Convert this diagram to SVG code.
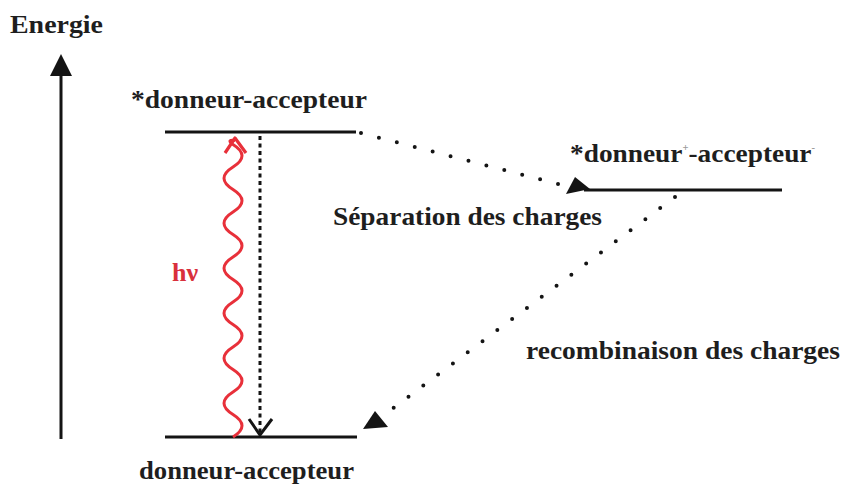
<svg xmlns="http://www.w3.org/2000/svg" width="843" height="488" viewBox="0 0 843 488">
  <style>
    .lbl { font-family: "Liberation Serif", "Times New Roman", serif; font-weight: bold; fill: #1e1e1e; font-size: 26px; }
    .lvl { stroke: #141414; stroke-width: 3; fill: none; }
    .dots { stroke: #141414; stroke-width: 4; stroke-linecap: round; stroke-dasharray: 0 18.5; fill: none; }
    .head { fill: #141414; }
    .sup { font-size: 10px; }
  </style>
  <rect width="843" height="488" fill="#ffffff"/>

  <!-- energy axis -->
  <g id="axis">
    <text class="lbl" x="10" y="33" textLength="93" lengthAdjust="spacingAndGlyphs">Energie</text>
    <line x1="61" y1="439" x2="61" y2="70" stroke="#141414" stroke-width="3"/>
    <polygon class="head" points="61,54 50,76 72,76"/>
  </g>

  <!-- excited state -->
  <g id="excited">
    <text class="lbl" x="131" y="108" textLength="236" lengthAdjust="spacingAndGlyphs">*donneur-accepteur</text>
    <line class="lvl" x1="165" y1="132" x2="356" y2="132"/>
  </g>

  <!-- charge-separated state -->
  <g id="separated">
    <text class="lbl" x="570" y="162" textLength="245" lengthAdjust="spacingAndGlyphs">*donneur<tspan class="sup" dy="-11" fill="#999">+</tspan><tspan dy="11">-accepteur</tspan><tspan class="sup" dy="-11" fill="#999">-</tspan></text>
    <line class="lvl" x1="584" y1="190" x2="782" y2="190"/>
  </g>

  <!-- ground state -->
  <g id="ground">
    <line class="lvl" x1="165" y1="437" x2="357" y2="437"/>
    <text class="lbl" x="139" y="479" textLength="215" lengthAdjust="spacingAndGlyphs">donneur-accepteur</text>
  </g>

  <!-- labels -->
  <g id="labels">
    <text class="lbl" x="333" y="225" textLength="269" lengthAdjust="spacingAndGlyphs">Séparation des charges</text>
    <text class="lbl" x="526" y="359" textLength="314" lengthAdjust="spacingAndGlyphs">recombinaison des charges</text>
    <text class="lbl" x="172" y="281" style="fill:#d9303c">hν</text>
  </g>

  <!-- connectors -->
  <g id="connectors">
    <!-- absorption (wavy photon) -->
    <path d="M233,437 q18,-11.25 0,-22.5 t0,-22.5 t0,-22.5 t0,-22.5 t0,-22.5 t0,-22.5 t0,-22.5 t0,-22.5 t0,-22.5 t0,-22.5 t0,-22.5 t0,-22.5 t0,-22.5 q-7,-5 2,-4"
          fill="none" stroke="#e8303a" stroke-width="3"/>
    <polyline points="225,153 235,138 246,153" fill="none" stroke="#e8303a" stroke-width="3.2" stroke-linejoin="round"/>

    <!-- relaxation (dashed) -->
    <line x1="260" y1="136" x2="260" y2="433" stroke="#141414" stroke-width="3" stroke-dasharray="4 3.5"/>
    <polyline points="249,419 260,435 272,419" fill="none" stroke="#141414" stroke-width="3"/>

    <!-- charge separation -->
    <line class="dots" x1="361" y1="133" x2="562" y2="185"/>
    <polygon class="head" points="566,194 575,177 590,189"/>

    <!-- recombination -->
    <line class="dots" x1="675" y1="197" x2="380" y2="418"/>
    <polygon class="head" points="363,429 375,411 388,427"/>
  </g>
</svg>
